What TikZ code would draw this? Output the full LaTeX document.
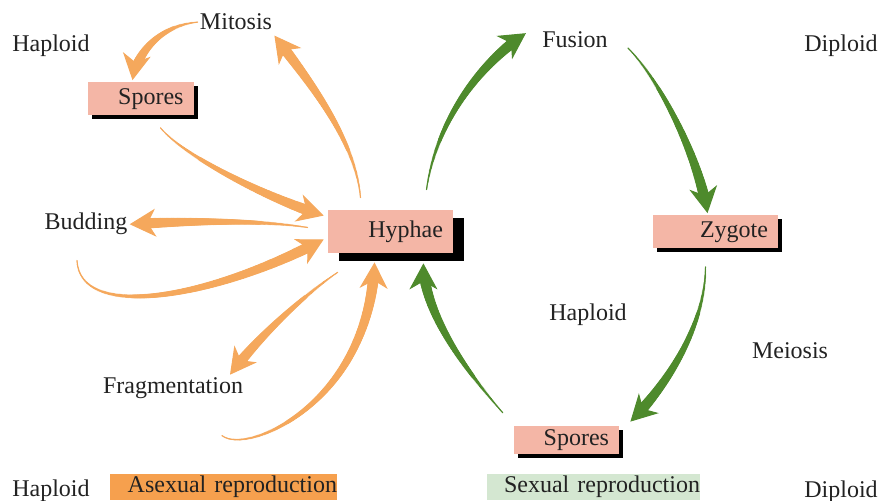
\documentclass[tikz,border=0pt]{standalone}
\usepackage{fontspec}
\setmainfont{Liberation Serif}
\usetikzlibrary{arrows.meta,positioning,shadows,decorations.markings}
\definecolor{Ink}{HTML}{222222}
\definecolor{Salmon}{HTML}{F4B6A6}
\definecolor{Peach}{HTML}{F5A85C}
\definecolor{PeachBar}{HTML}{F6A04E}
\definecolor{Leaf}{HTML}{4E8A2C}
\definecolor{LeafBg}{HTML}{D4E7D1}

\begin{document}
\begin{tikzpicture}[
  x=0.5pt, y=-0.5pt,
  every node/.style={font=\fontsize{12}{14}\selectfont, text=Ink},
  lbl/.style={anchor=base, inner sep=1pt},
  cell/.style={rectangle, fill=Salmon, inner xsep=5pt, inner ysep=0pt, align=right},
  shd/.style 2 args={drop shadow={shadow xshift=#1, shadow yshift=#2, fill=black, opacity=1}},
  bar/.style={rectangle, fill=#1, inner xsep=0pt, inner ysep=0pt, minimum height=13pt, align=right},
  brush/.style={draw=#1, line width=0.5pt, -{Stealth[length=13pt, width=14pt, inset=4pt]},
    postaction={decorate, decoration={markings,
      mark=between positions 0 and -9pt step 0.6pt with {%
        \pgfmathsetmacro\brushr{0.3+2.6*\pgfkeysvalueof{/pgf/decoration/mark info/distance from start}/\pgfdecoratedpathlength}%
        \fill[#1] (0,0) circle (\brushr pt);}}}},
]
\path[use as bounding box, fill=white] (0,0) rectangle (881,501);

% boxes
\node[cell, shd={2pt}{-1.75pt}, text width=43pt, minimum height=16.5pt] (sporesA) at (140.5,99) {Spores};
\node[cell, shd={5.5pt}{-4pt}, text width=52.5pt, minimum height=21.5pt] (hyphae) at (390.5,231.5) {Hyphae};
\node[cell, shd={2pt}{-1.75pt}, text width=52.5pt, minimum height=16.5pt] (zygote) at (715.5,232) {Zygote};
\node[cell, shd={2pt}{-2pt}, text width=42.5pt, minimum height=14pt] (sporesB) at (566.5,440) {Spores};

% labels
\node[lbl] (haplA)   at (51,52)   {Haploid};
\node[lbl] (mitosis) at (236,30)  {Mitosis};
\node[lbl] (budding) at (86,230)  {Budding};
\node[lbl] (frag)    at (173,393) {Fragmentation};
\node[lbl] (haplB)   at (51,496)  {Haploid};
\node[lbl] (fusion)  at (575,48)  {Fusion};
\node[lbl] (diplA)   at (841,52)  {Diploid};
\node[lbl] (haplC)   at (588,321) {Haploid};
\node[lbl] (meiosis) at (790,358) {Meiosis};
\node[lbl] (diplB)   at (841,497) {Diploid};

% banners
\node[bar=PeachBar, text width=113.5pt] (asex) at (223.5,487) {Asexual reproduction};
\node[bar=LeafBg, text width=106.5pt]   (sex)  at (593.5,487) {Sexual reproduction};

% asexual cycle
\draw[brush=Peach] (mitosis.west) .. controls +(-35,3) and +(5,-30) .. ([xshift=-4pt,yshift=1pt]sporesA.north);
\draw[brush=Peach] ([xshift=-15pt,yshift=6pt]hyphae.north) .. controls +(-5,-60) and +(30,40) .. ([yshift=-1.5pt]mitosis.south east);
\draw[brush=Peach] ([xshift=10pt,yshift=-6pt]sporesA.south) .. controls +(25,30) and +(-50,-15) .. ([xshift=-2pt,yshift=-3pt]hyphae.north west);
\draw[brush=Peach] ([xshift=-10pt,yshift=2pt]hyphae.west) .. controls +(-50,-8) and +(50,-3) .. (budding.east);
\draw[brush=Peach] ([xshift=-4.5pt,yshift=-11.5pt]budding.south) .. controls +(3,60) and +(-114,60) .. ([xshift=-2pt,yshift=-4pt]hyphae.west);
\draw[brush=Peach] ([xshift=5pt,yshift=-9.5pt]hyphae.south west) .. controls +(-30,20) and +(30,-40) .. ([xshift=28.5pt]frag.north);
\draw[brush=Peach] ([xshift=24.5pt,yshift=-17.5pt]frag.south) .. controls +(25,20) and +(-5,140) .. ([xshift=-8pt,yshift=-4.5pt]hyphae.south);

% sexual cycle
\draw[brush=Leaf] ([xshift=18pt,yshift=10pt]hyphae.north) .. controls +(10,-70) and +(-45,30) .. ([xshift=-7pt,yshift=3.5pt]fusion.west);
\draw[brush=Leaf] ([xshift=9pt,yshift=-4pt]fusion.east) .. controls +(30,30) and +(-10,-60) .. ([xshift=-4pt,yshift=1pt]zygote.north);
\draw[brush=Leaf] ([xshift=-5pt,yshift=-9pt]zygote.south) .. controls +(0,60) and +(35,-35) .. ([xshift=5.5pt,yshift=2pt]sporesB.north east);
\draw[brush=Leaf] ([xshift=-5.5pt,yshift=6.5pt]sporesB.north west) .. controls +(-35,-40) and +(0,50) .. ([xshift=-15pt,yshift=-5pt]hyphae.south east);
\end{tikzpicture}
\end{document}
